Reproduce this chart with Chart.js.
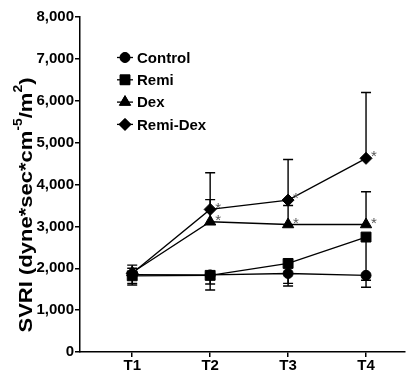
<!DOCTYPE html>
<html>
<head>
<meta charset="utf-8">
<script src="https://cdn.jsdelivr.net/npm/chart.js@4"></script>
<style>
  html, body { margin: 0; padding: 0; background: #fff; overflow: hidden; }
  #wrap { position: relative; width: 406px; height: 372px; }
  #svri { display: block; }
</style>
</head>
<body>
<div id="wrap"><canvas id="svri"></canvas></div>
<script>
// time points
const categories = ["T1", "T2", "T3", "T4"];
const yTicks = [0, 1000, 2000, 3000, 4000, 5000, 6000, 7000, 8000];

// group means
const control = [1850, 1840, 1875, 1830];
const remi = [1820, 1830, 2115, 2745];
const dex = [1900, 3110, 3045, 3045];
const remiDex = [1880, 3405, 3628, 4625];

// error bar ends (one-sided, as in the figure)
const controlErr = [1600, 1480, 1575, 1545];
const remiErr = [1640, 1625, 1640, 1715];
const dexErr = [2000, 3640, 3500, 3826];
const remiDexErr = [2075, 4280, 4597, 6198];

// significance marks
const dexSig = ["", "*", "*", "*"];
const remiDexSig = ["", "*", "*", "*"];

function pts(arr) {
  return arr.map((v, i) => ({ x: i + 1, y: v }));
}

function makeSet(label, values, err, sig, style, radius) {
  return {
    label: label,
    data: pts(values),
    err: err,
    sig: sig,
    borderColor: "#000",
    backgroundColor: "#000",
    borderWidth: 1.3,
    pointStyle: style,
    pointRadius: radius,
    pointBorderWidth: 1,
    pointBackgroundColor: "#000",
    pointBorderColor: "#000",
    tension: 0,
    fill: false
  };
}

const font = "'Liberation Sans', Arial, sans-serif";

const extras = {
  id: "extras",
  beforeDatasetsDraw(chart) {
    const ctx = chart.ctx;
    const xs = chart.scales.x, ys = chart.scales.y;
    ctx.save();
    ctx.strokeStyle = "#000";
    ctx.lineWidth = 1.4;
    chart.data.datasets.forEach((ds) => {
      ds.data.forEach((p, i) => {
        const x = xs.getPixelForValue(p.x);
        const y0 = ys.getPixelForValue(p.y);
        const y1 = ys.getPixelForValue(ds.err[i]);
        ctx.beginPath();
        ctx.moveTo(x, y0);
        ctx.lineTo(x, y1);
        ctx.moveTo(x - 5, y1);
        ctx.lineTo(x + 5, y1);
        ctx.stroke();
      });
    });
    ctx.restore();
  },
  afterDatasetsDraw(chart) {
    const ctx = chart.ctx;
    const xs = chart.scales.x, ys = chart.scales.y;
    ctx.save();
    // asterisks
    ctx.fillStyle = "#555";
    ctx.font = "15px " + font;
    ctx.textAlign = "left";
    ctx.textBaseline = "middle";
    chart.data.datasets.forEach((ds) => {
      ds.data.forEach((p, i) => {
        if (!ds.sig || !ds.sig[i]) return;
        ctx.fillText(ds.sig[i], xs.getPixelForValue(p.x) + 5, ys.getPixelForValue(p.y) - 1);
      });
    });

    // legend inside the plot
    ctx.font = "bold 15px " + font;
    ctx.fillStyle = "#000";
    ctx.strokeStyle = "#000";
    chart.data.datasets.forEach((ds, i) => {
      const y = 57.5 + i * 22.3;
      ctx.lineWidth = 1.3;
      ctx.beginPath();
      ctx.moveTo(117, y);
      ctx.lineTo(133, y);
      ctx.stroke();
      ctx.lineWidth = 1;
      Chart.helpers.drawPoint(ctx, { pointStyle: ds.pointStyle, radius: ds.pointRadius, borderWidth: 1, rotation: 0 }, 125, y);
      ctx.fill();
      ctx.fillText(ds.label, 137, y + 1);
    });

    // y axis title with superscripts
    const parts = [
      ["SVRI (dyne*sec*cm", false],
      ["-5", true],
      ["/m", false],
      ["2", true],
      [")", false]
    ];
    const big = 19, small = 12;
    let total = 0;
    parts.forEach(([t, sup]) => {
      ctx.font = "bold " + (sup ? small : big) + "px " + font;
      total += ctx.measureText(t).width;
    });
    const stretch = 255 / total;
    ctx.translate(27, 205);
    ctx.rotate(-Math.PI / 2);
    ctx.scale(stretch, 1);
    let x = -total / 2;
    ctx.textAlign = "left";
    ctx.textBaseline = "middle";
    parts.forEach(([t, sup]) => {
      ctx.font = "bold " + (sup ? small : big) + "px " + font;
      ctx.fillText(t, x, sup ? -8 : 0);
      x += ctx.measureText(t).width;
    });
    ctx.restore();
  }
};

new Chart(document.getElementById("svri"), {
  type: "line",
  data: {
    datasets: [
      makeSet("Control", control, controlErr, null, "circle", 5),
      makeSet("Remi", remi, remiErr, null, "rect", 7),
      makeSet("Dex", dex, dexErr, dexSig, "triangle", 6.5),
      makeSet("Remi-Dex", remiDex, remiDexErr, remiDexSig, "rectRot", 6)
    ]
  },
  options: {
    responsive: true,
    maintainAspectRatio: false,
    animation: false,
    layout: { autoPadding: false, padding: { top: 17, right: 1, left: 0, bottom: 0 } },
    plugins: {
      legend: { display: false },
      tooltip: { enabled: false }
    },
    scales: {
      x: {
        type: "linear",
        min: 0.33,
        max: 4.5,
        afterBuildTicks: (scale) => {
          scale.ticks = categories.map((c, i) => ({ value: i + 1 }));
        },
        afterFit: (scale) => {
          scale.height = 20;
          scale.paddingLeft = 0;
          scale.paddingRight = 0;
        },
        ticks: {
          callback: (v) => categories[Math.round(v) - 1],
          font: { family: font, size: 15, weight: "bold" },
          color: "#000",
          padding: 0,
          maxRotation: 0
        },
        grid: { display: true, drawOnChartArea: false, color: "#000", lineWidth: 1.5, tickLength: 5 },
        border: { display: true, color: "#000", width: 1.5 }
      },
      y: {
        min: 0,
        max: 8000,
        afterBuildTicks: (scale) => {
          scale.ticks = yTicks.map((v) => ({ value: v }));
        },
        afterFit: (scale) => { scale.width = 80; },
        ticks: {
          callback: (v) => v.toLocaleString("en-US"),
          font: { family: font, size: 15, weight: "bold" },
          color: "#000",
          padding: 1
        },
        grid: { display: true, drawOnChartArea: false, color: "#000", lineWidth: 1.5, tickLength: 5 },
        border: { display: true, color: "#000", width: 1.5 }
      }
    }
  },
  plugins: [extras]
});
</script>
</body>
</html>
